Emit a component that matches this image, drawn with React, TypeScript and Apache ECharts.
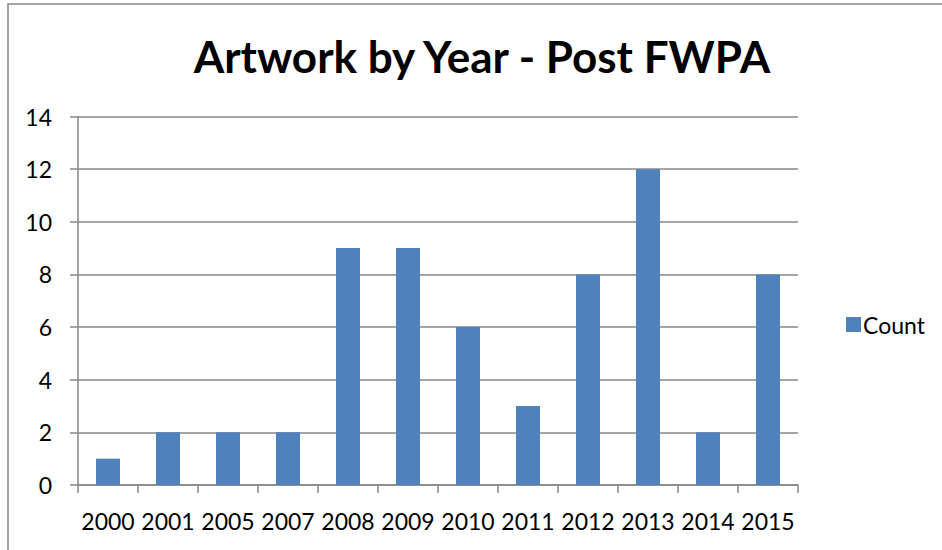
import React, { useEffect, useRef } from "react";
import * as echarts from "echarts";

const titleText = "Artwork by Year - Post FWPA";
const years = ["2000", "2001", "2005", "2007", "2008", "2009", "2010", "2011", "2012", "2013", "2014", "2015"];
const counts = [1, 2, 2, 2, 9, 9, 6, 3, 8, 12, 2, 8];
const seriesName = "Count";

export default function App() {
  const ref = useRef<HTMLDivElement>(null);
  useEffect(() => {
    if (!ref.current) return;
    const chart = echarts.init(ref.current, null, { renderer: "svg" });
    const font = "Lato, 'Noto Sans', sans-serif";
    chart.setOption({
      animation: false,
      backgroundColor: "#ffffff",
      textStyle: { fontFamily: font },
      title: {
        text: titleText,
        left: 477,
        textAlign: "center",
        top: 29,
        textStyle: { fontFamily: font, fontSize: 44, fontWeight: "bold", color: "#000" },
      },
      legend: {
        data: [seriesName],
        orient: "vertical",
        left: 841,
        top: 308,
        itemWidth: 15,
        itemHeight: 15,
        itemGap: 6,
        icon: "rect",
        textStyle: { fontFamily: font, fontSize: 23, color: "#000", padding: [0, 0, 0, -3] },
      },
      graphic: [
        {
          type: "rect",
          shape: { x: 8, y: 4, width: 1000, height: 600 },
          style: { fill: "none", stroke: "#878787", lineWidth: 1.5 },
          silent: true,
        },
      ],
      grid: { left: 78, right: 144, top: 116.5, bottom: 65, containLabel: false },
      xAxis: {
        type: "category",
        data: years,
        axisLine: { show: true, lineStyle: { color: "#878787", width: 1.5 } },
        axisTick: { show: true, length: 8, interval: 0, lineStyle: { color: "#878787", width: 1.5 } },
        axisLabel: { fontFamily: font, fontSize: 23, color: "#000", margin: 24, interval: 0 },
      },
      yAxis: {
        type: "value",
        min: 0,
        max: 14,
        interval: 2,
        axisLine: { show: true, lineStyle: { color: "#878787", width: 1.5 } },
        axisTick: { show: true, length: 8, lineStyle: { color: "#878787", width: 1.5 } },
        splitLine: { show: true, lineStyle: { color: "#878787", width: 1.5 } },
        axisLabel: { fontFamily: font, fontSize: 23, color: "#000", margin: 26 },
      },
      series: [
        {
          name: seriesName,
          type: "bar",
          data: counts,
          barCategoryGap: "60%",
          itemStyle: { color: "#4F81BD" },
        },
      ],
    });
    return () => chart.dispose();
  }, []);
  return <div ref={ref} style={{ position: "fixed", left: 0, top: 0, width: 942, height: 550 }} />;
}
